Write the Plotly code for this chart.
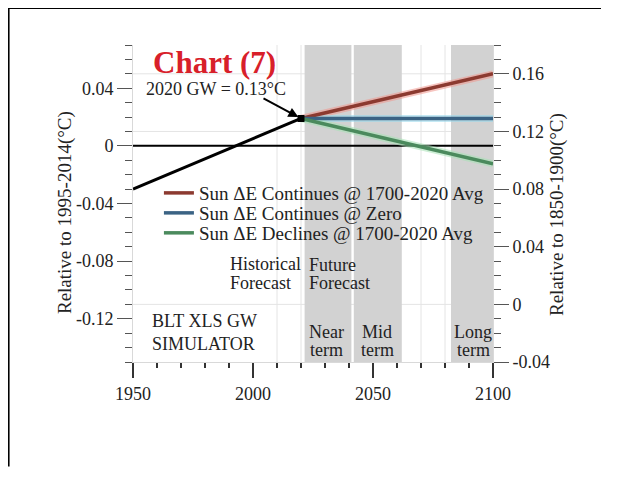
import plotly.graph_objects as go

# ---------------- data ----------------
HIST_YEARS = [1950, 2020]
HIST_VALUES = [-0.030, 0.019]          # relative to 1995-2014 (°C)

FUT_YEARS = [2020, 2100]
SUN_CONT_AVG = [0.019, 0.050]
SUN_CONT_ZERO = [0.019, 0.019]
SUN_DECL_AVG = [0.019, -0.0125]

SERIES_NAMES = [
    "Sun \u0394E Continues @ 1700-2020 Avg",
    "Sun \u0394E Continues @ Zero",
    "Sun \u0394E Declines @ 1700-2020 Avg",
]

OFFSET_1850 = 0.11   # right axis = left axis + offset

X_TICKS = [1950, 2000, 2050, 2100]
Y_TICKS = [-0.12, -0.08, -0.04, 0, 0.04]
Y_TICK_TEXT = ["-0.12", "-0.08", "-0.04", "0", "0.04"]
Y2_TICKS = [-0.04, 0, 0.04, 0.08, 0.12, 0.16]
Y2_TICK_TEXT = ["-0.04", "0", "0.04", "0.08", "0.12", "0.16"]

PERIODS = [("Near", 2021.5, 2041.0), ("Mid", 2042.0, 2062.0), ("Long", 2082.5, 2100.0)]
V_GRID = [2010, 2020, 2030, 2040, 2050, 2060, 2070, 2080, 2090]
H_GRID_RIGHT = [0, 0.12, 0.16]

# ---------------- style ----------------
FONT = "Liberation Serif, Times New Roman, serif"
TXT = "#222222"
CORE = ["#8c3a30", "#3b6384", "#4b8a5d"]
HALO = ["rgba(240,150,140,0.55)", "rgba(150,215,235,0.55)", "rgba(165,225,180,0.55)"]
GRAY = "#d2d2d2"
GRID = "#e4e4e4"

fig = go.Figure()

futs = [SUN_CONT_AVG, SUN_CONT_ZERO, SUN_DECL_AVG]
for vals, hc in zip(futs, HALO):
    fig.add_trace(go.Scatter(x=FUT_YEARS, y=vals, mode="lines",
                             line=dict(color=hc, width=7), showlegend=False,
                             hoverinfo="skip"))

fig.add_trace(go.Scatter(x=HIST_YEARS, y=HIST_VALUES, mode="lines",
                         line=dict(color="black", width=3), showlegend=False))

legends = ["legend", "legend2", "legend3"]
for vals, c, name, lg in zip(futs, CORE, SERIES_NAMES, legends):
    fig.add_trace(go.Scatter(x=FUT_YEARS, y=vals, mode="lines", name=name,
                             line=dict(color=c, width=3.5), legend=lg))

fig.add_trace(go.Scatter(x=[HIST_YEARS[-1]], y=[HIST_VALUES[-1]], mode="markers",
                         marker=dict(symbol="square", size=7, color="black"),
                         showlegend=False))

# invisible trace to register right axis
fig.add_trace(go.Scatter(x=HIST_YEARS, y=[v + OFFSET_1850 for v in HIST_VALUES],
                         mode="none", yaxis="y2", showlegend=False, hoverinfo="skip"))

shapes = []
for gx in V_GRID:
    shapes.append(dict(type="line", xref="x", yref="paper", x0=gx, x1=gx, y0=0, y1=1,
                       line=dict(color=GRID, width=1), layer="below"))
for gy in H_GRID_RIGHT:
    shapes.append(dict(type="line", xref="paper", yref="y2", x0=0, x1=1, y0=gy, y1=gy,
                       line=dict(color=GRID, width=1), layer="below"))
for _, a, b in PERIODS:
    shapes.append(dict(type="rect", xref="x", yref="paper", x0=a, x1=b, y0=0, y1=1,
                       fillcolor=GRAY, line=dict(width=0), layer="below"))
shapes.append(dict(type="line", xref="paper", yref="y", x0=0, x1=1, y0=0, y1=0,
                   line=dict(color="black", width=2), layer="below"))
# outer frame (left and top edges only; the rest lies outside the picture)
shapes.append(dict(type="line", xref="paper", yref="paper", x0=-0.347, x1=-0.347, y0=-0.33, y1=1.118,
                   line=dict(color="black", width=3), layer="above"))
shapes.append(dict(type="line", xref="paper", yref="paper", x0=-0.351, x1=1.30, y0=1.118, y1=1.118,
                   line=dict(color="black", width=3), layer="above"))

ann = []
def txt(x, y, s, size=18, xanchor="left", color=TXT, bold=False):
    ann.append(dict(x=x, y=y, xref="x", yref="y", text=f"<b>{s}</b>" if bold else s,
                    showarrow=False, xanchor=xanchor, yanchor="middle",
                    font=dict(family=FONT, size=size, color=color)))

txt(1983.8, 0.0581, "Chart (7)", size=31, xanchor="center", color="#d8202a", bold=True)
txt(1984.6, 0.0393, "2020 GW = 0.13\u00b0C", xanchor="center")
ann.append(dict(x=HIST_YEARS[-1], y=HIST_VALUES[-1], xref="x", yref="y", text="",
                showarrow=True, ax=-39, ay=-21, arrowhead=2, arrowsize=1, arrowwidth=2,
                arrowcolor="black", standoff=3))
txt(1989.6, -0.0817, "Historical")
txt(1989.6, -0.0950, "Forecast")
txt(2022.5, -0.0824, "Future")
txt(2022.5, -0.0950, "Forecast")
for label, a, b in PERIODS:
    cx = {"Near": 2030.8, "Mid": 2051.7, "Long": 2091.7}[label]
    txt(cx, -0.1295, label, xanchor="center")
    txt(cx, -0.1415, "term", xanchor="center")
txt(1957.1, -0.1214, "BLT XLS GW")
txt(1957.1, -0.1374, "SIMULATOR")

ann.append(dict(x=-0.189, y=0.473, xref="paper", yref="paper", text="Relative to 1995-2014(\u00b0C)",
                textangle=-90, showarrow=False, xanchor="center", yanchor="middle",
                font=dict(family=FONT, size=19, color=TXT)))
ann.append(dict(x=1.178, y=0.464, xref="paper", yref="paper", text="Relative to 1850-1900(\u00b0C)",
                textangle=-90, showarrow=False, xanchor="center", yanchor="middle",
                font=dict(family=FONT, size=19, color=TXT)))

tickfont = dict(family=FONT, size=18, color=TXT)
leg_common = dict(x=0.072, xanchor="left", yanchor="middle", bgcolor="rgba(0,0,0,0)",
                  borderwidth=0, font=dict(family=FONT, size=19, color=TXT))

fig.update_layout(
    width=600, height=460,
    margin=dict(l=125, r=115, t=37, b=106),
    paper_bgcolor="white", plot_bgcolor="white",
    showlegend=True,
    legend=dict(y=0.533, **leg_common),
    legend2=dict(y=0.470, **leg_common),
    legend3=dict(y=0.407, **leg_common),
    xaxis=dict(range=[1950, 2100], tickvals=X_TICKS, ticks="outside", ticklen=15, tickwidth=1.5,
               tickcolor="#333", showgrid=False, zeroline=False, showline=True,
               linecolor="#d9d9d9", linewidth=1, tickfont=tickfont,
               minor=dict(dtick=10, tick0=1950, ticks="outside", ticklen=5, tickcolor="#333",
                          showgrid=False)),
    yaxis=dict(range=[-0.15, 0.07], tickvals=Y_TICKS, ticktext=Y_TICK_TEXT, ticks="outside",
               ticklen=15, tickwidth=1, tickcolor="#555", showgrid=False, zeroline=False,
               showline=True, linecolor="#d9d9d9", linewidth=1, tickfont=tickfont,
               minor=dict(dtick=0.01, tick0=0, ticks="outside", ticklen=7, tickcolor="#555",
                          showgrid=False)),
    yaxis2=dict(range=[-0.04, 0.18], overlaying="y", side="right", tickvals=Y2_TICKS,
                ticktext=Y2_TICK_TEXT, ticks="outside", ticklen=15, tickwidth=1, tickcolor="#555",
                showgrid=False, zeroline=False, showline=True, linecolor="#d9d9d9", linewidth=1,
                tickfont=tickfont,
                minor=dict(dtick=0.01, tick0=0, ticks="outside", ticklen=7, tickcolor="#555",
                           showgrid=False)),
    shapes=shapes,
    annotations=ann,
)

fig.write_html("out.html")
